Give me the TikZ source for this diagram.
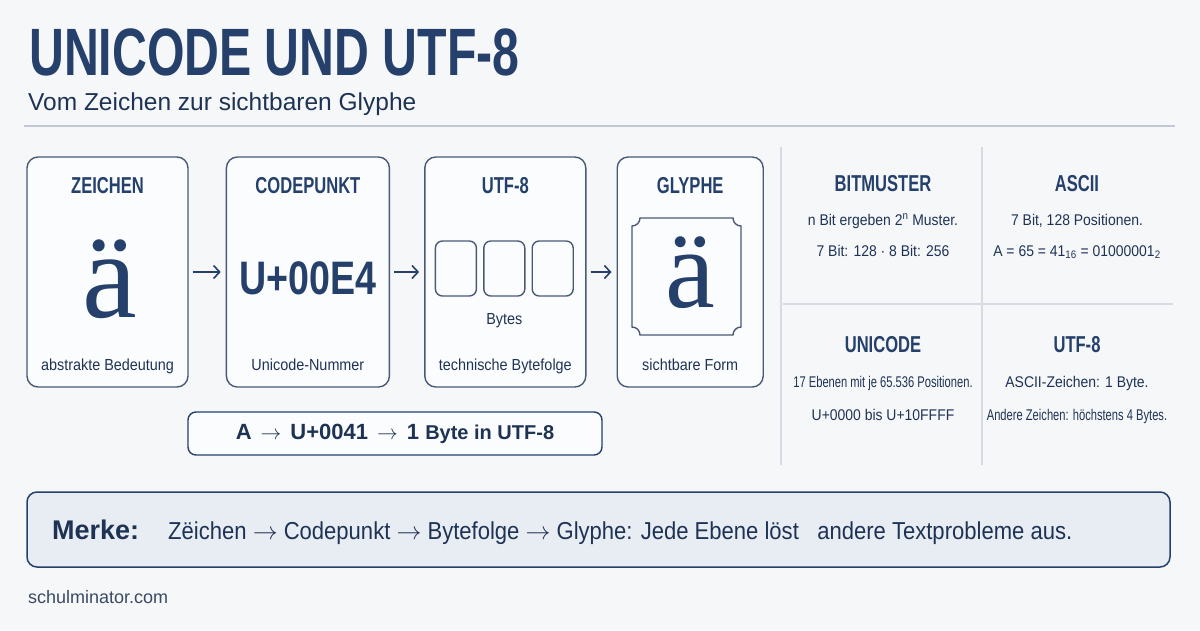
\documentclass[tikz,border=0pt]{standalone}
\usepackage{fontspec}
\setmainfont{Liberation Sans}
\newfontfamily\headfont[FakeStretch=0.72]{Liberation Sans}
\newfontfamily\codefont[FakeStretch=0.8]{Liberation Sans}
\newfontfamily\bodyfont[FakeStretch=0.9]{Liberation Sans}
\newfontfamily\narrowfont[FakeStretch=0.72]{Liberation Sans}
\newfontfamily\glyphfont{Liberation Serif}
\usetikzlibrary{arrows.meta, positioning}
\definecolor{navy}{HTML}{24406B}
\definecolor{ink}{HTML}{1E3354}
\definecolor{cardline}{HTML}{4A5A76}
\definecolor{cardfill}{HTML}{FBFCFD}
\definecolor{bgcol}{HTML}{F6F7F9}
\definecolor{gridline}{HTML}{D6DBE3}
\definecolor{merkefill}{HTML}{E8ECF3}
\definecolor{footgray}{HTML}{3A4A63}
\newcommand{\pxsize}[1]{\fontsize{#1}{#1}\selectfont}
\newcommand{\ra}{\ensuremath{\rightarrow}}

\begin{document}
\begin{tikzpicture}[
    x=1pt, y=1pt,
    card/.style={rectangle, draw=cardline, line width=1.4pt, rounded corners=11pt, fill=cardfill, minimum height=230pt, inner sep=0pt},
    cardtitle/.style={font=\headfont\bfseries\pxsize{23}, text=navy, inner sep=0pt, anchor=base},
    cardnote/.style={font=\bodyfont\pxsize{16}, text=ink, inner sep=0pt, anchor=base},
    bigglyph/.style={font=\glyphfont, text=navy, inner sep=0pt, anchor=base},
    bytebox/.style={rectangle, draw=cardline, line width=1.4pt, rounded corners=7pt, fill=cardfill, minimum width=41pt, minimum height=55pt, inner sep=0pt},
    celltitle/.style={font=\headfont\bfseries\pxsize{23}, text=navy, inner sep=0pt, anchor=base},
    celltext/.style={font=\bodyfont\pxsize{15.5}, text=ink, inner sep=0pt, anchor=base},
    cellnarrow/.style={font=\narrowfont\pxsize{15.5}, text=ink, inner sep=0pt, anchor=base},
    grid/.style={draw=gridline, line width=1.3pt},
    flow/.style={-{Straight Barb[length=6pt,width=13pt]}, line width=1.6pt, draw=navy, shorten <=4pt, shorten >=5pt}
]
\useasboundingbox (0,0) rectangle (1200,-630);
\fill[bgcol] (0,0) rectangle (1200,-630);

% Title
\node[anchor=base west, inner sep=0pt, font=\headfont\bfseries\pxsize{67}, text=navy] (title) at (29,-75) {UNICODE UND UTF-8};
\node[anchor=base west, inner sep=0pt, font=\pxsize{24.5}, text=ink] (subtitle) at (28,-110) {Vom Zeichen zur sichtbaren Glyphe};
\draw[draw=gridline!85!cardline, line width=2pt] (24,-126) -- (1175,-126);

% Cards
\node[card, minimum width=161pt] (zeichen) at (107.5,-272) {};
\node[card, minimum width=163pt, right=37pt of zeichen] (codepunkt) {};
\node[card, minimum width=161pt, right=34pt of codepunkt] (utf) {};
\node[card, minimum width=146pt, right=30pt of utf] (glyphe) {};

\node[cardtitle] (zeichenT) at ([yshift=-37.5pt]zeichen.north) {ZEICHEN};
\node[cardtitle] (codepunktT) at ([yshift=-37.5pt]codepunkt.north) {CODEPUNKT};
\node[cardtitle] (utfT) at ([yshift=-37.5pt]utf.north) {UTF-8};
\node[cardtitle] (glypheT) at ([yshift=-37.5pt]glyphe.north) {GLYPHE};

\node[bigglyph, font=\glyphfont\pxsize{123}] (zeichenA) at ([xshift=2pt, yshift=-45pt]zeichen.center) {ä};
\node[anchor=base, inner sep=0pt, font=\codefont\bfseries\pxsize{47}, text=navy] (code) at ([yshift=-22pt]codepunkt.center) {U+00E4};
\node[bytebox, xshift=-1pt] (byte2) at ([yshift=3.5pt]utf.center) {};
\node[bytebox, left=6pt of byte2] (byte1) {};
\node[bytebox, right=6pt of byte2] (byte3) {};
\node[cardnote] (bytes) at ([yshift=-55.5pt]byte2.center) {Bytes};

% glyph frame with cut corners
\draw[draw=cardline, line width=1.4pt, fill=cardfill]
  (640,-218) -- (733,-218) arc[start angle=180, end angle=270, radius=8pt]
  -- (741,-327) arc[start angle=90, end angle=180, radius=8pt]
  -- (640,-335) arc[start angle=0, end angle=90, radius=8pt]
  -- (632,-226) arc[start angle=270, end angle=360, radius=8pt] -- cycle;
\node[bigglyph, font=\glyphfont\pxsize{112}] (glypheA) at ([yshift=-35pt]glyphe.center) {ä};

\node[cardnote] (zeichenN) at ([yshift=17pt]zeichen.south) {abstrakte Bedeutung};
\node[cardnote] (codepunktN) at ([yshift=17pt]codepunkt.south) {Unicode-Nummer};
\node[cardnote] (utfN) at ([yshift=17pt]utf.south) {technische Bytefolge};
\node[cardnote] (glypheN) at ([yshift=17pt]glyphe.south) {sichtbare Form};

% Arrows
\draw[flow] (zeichen) -- (codepunkt);
\draw[flow] (codepunkt) -- (utf);
\draw[flow] (utf) -- (glyphe);

% Example
\node[rectangle, draw=navy, line width=1.4pt, rounded corners=8pt, fill=cardfill, minimum width=414pt, minimum height=43pt, inner sep=0pt, font=\bfseries\pxsize{22}, text=ink] (example) at (395,-433.5)
  {A\hspace{9pt}\ra\hspace{9pt}U+0041\hspace{9pt}\ra\hspace{9pt}1 {\pxsize{20}Byte in UTF-8}\hspace{7pt}};

% Info grid
\draw[grid] (781,-147) -- (781,-465);
\draw[grid] (982,-147) -- (982,-465);
\draw[grid] (783,-304) -- (1173,-304);

\node[celltitle] (bitT) at (883,-191) {BITMUSTER};
\node[celltext] (bitA) at (883,-225) {n Bit ergeben 2\textsuperscript{n} Muster.};
\node[celltext] (bitB) at (883,-256) {7 Bit: 128 · 8 Bit: 256};

\node[celltitle] (asciiT) at (1077,-191) {ASCII};
\node[celltext] (asciiA) at (1077,-225) {7 Bit, 128 Positionen.};
\node[celltext] (asciiB) at (1077,-256) {A = 65 = 41\textsubscript{16} = 01000001\textsubscript{2}};

\node[celltitle] (uniT) at (883,-352) {UNICODE};
\node[cellnarrow] (uniA) at (883,-387) {17 Ebenen mit je 65.536 Positionen.};
\node[celltext] (uniB) at (883,-420) {U+0000 bis U+10FFFF};

\node[celltitle] (utfcT) at (1077,-352) {UTF-8};
\node[celltext] (utfcA) at (1077,-387) {ASCII-Zeichen: 1 Byte.};
\node[cellnarrow] (utfcB) at (1077,-420) {Andere Zeichen: höchstens 4 Bytes.};

% Merke
\node[rectangle, draw=navy, line width=1.5pt, rounded corners=10pt, fill=merkefill, minimum width=1143pt, minimum height=75pt, inner sep=0pt] (merke) at (598.5,-529.5) {};
\node[anchor=base west, inner sep=0pt, font=\bfseries\pxsize{27}, text=ink] (merkeL) at (52,-539) {Merke:};
\node[anchor=base west, inner sep=0pt, font=\bodyfont\pxsize{24.5}, text=ink] (merkeT) at (168,-539)
  {Zëichen \ra\ Codepunkt \ra\ Bytefolge \ra\ Glyphe: Jede Ebene löst \ \ andere Textprobleme aus.};

\node[anchor=base west, inner sep=0pt, font=\pxsize{18}, text=footgray] (footer) at (28,-603) {schulminator.com};

\end{tikzpicture}
\end{document}
